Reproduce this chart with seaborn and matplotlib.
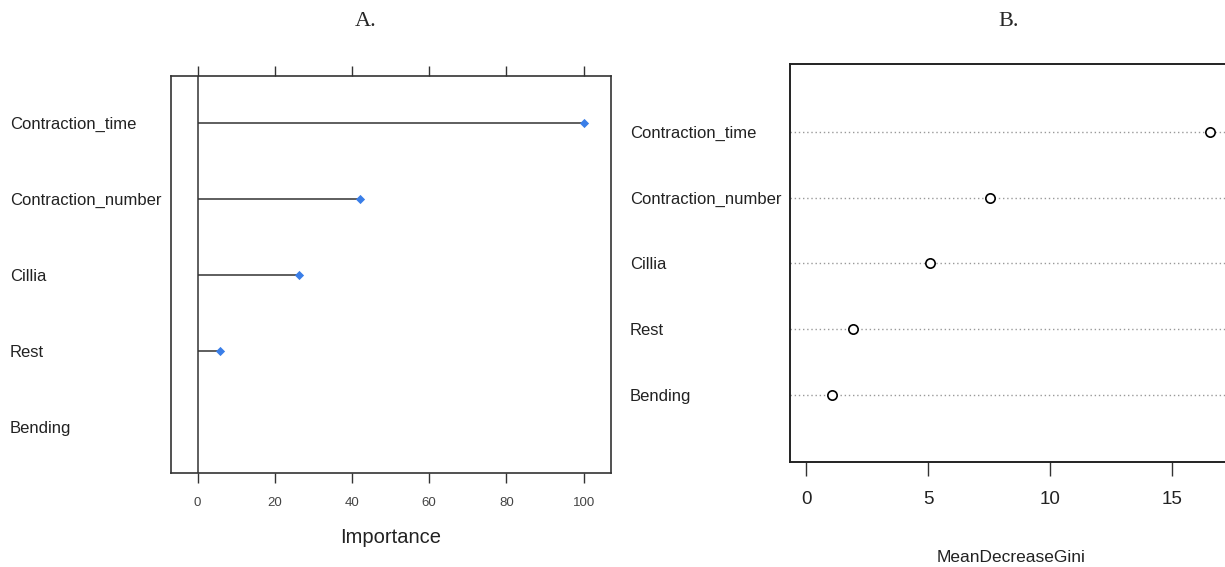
"""Variable importance: caret-style lollipop (A) and randomForest Gini dotchart (B)."""

import matplotlib

matplotlib.use("Agg")
import matplotlib.pyplot as plt
import pandas as pd
import seaborn as sns

features = ["Contraction_time", "Contraction_number", "Cillia", "Rest", "Bending"]
importance = [100.0, 42.0, 26.2, 5.8, 0.0]
gini = [16.54, 7.55, 5.09, 1.93, 1.06]
importance_ticks = [0, 20, 40, 60, 80, 100]
gini_ticks = [0, 5, 10, 15]

W, H = 1225, 567
SANS = ["Liberation Sans", "DejaVu Sans"]
SERIF = ["Liberation Serif", "DejaVu Serif"]

sns.set_theme(style="white")
plt.rcParams["font.family"] = SANS

df = pd.DataFrame({"feature": features, "importance": importance, "gini": gini})
df["pos"] = range(len(df))

fig = plt.figure(figsize=(W / 100, H / 100), dpi=100)


def px_axes(left, right, top, bottom):
    return fig.add_axes([left / W, 1 - bottom / H, (right - left) / W, (bottom - top) / H])


def left_labels(ax, axis_left_px, text_left_px):
    ax.set_yticks(df["pos"])
    ax.set_yticklabels(df["feature"], fontsize=12, color="#222222")
    ax.tick_params(axis="y", length=0, pad=(axis_left_px - text_left_px) * 0.72)
    for lab in ax.get_yticklabels():
        lab.set_horizontalalignment("left")


# ---- panel A -------------------------------------------------------------
ax_a = px_axes(171, 611, 76, 473)
ax_a.hlines(df["pos"], 0, df["importance"], color="#333333", lw=1.1, zorder=2)
ax_a.axvline(0, color="#333333", lw=1.1, zorder=1)
shown = df[df["importance"] > 0]
sns.scatterplot(data=shown, x="importance", y="pos", ax=ax_a, color="#3a7ee8",
                marker="D", s=22, edgecolor="#3a7ee8", linewidth=0, zorder=3)
ax_a.set_xlim(-6.9, 107.1)
ax_a.set_ylim(4.6, -0.62)
ax_a.set_xticks(importance_ticks)
ax_a.set_xticklabels(importance_ticks, fontsize=9.5, color="#444444")
ax_a.tick_params(axis="x", bottom=True, top=True, direction="out", length=7,
                 width=1, color="#333333", pad=10)
ax_a.set_xlabel("Importance", fontsize=14.5, color="#222222", labelpad=14)
ax_a.set_ylabel("")
left_labels(ax_a, 171, 10)
for sp in ax_a.spines.values():
    sp.set_color("#333333")
    sp.set_linewidth(1.2)

# ---- panel B -------------------------------------------------------------
ax_b = px_axes(790, 1232, 64, 462)
for y in df["pos"]:
    ax_b.axhline(y, color="#999999", lw=1, ls=(0, (1, 2)), zorder=1)
sns.scatterplot(data=df, x="gini", y="pos", ax=ax_b, marker="o", s=45,
                facecolor="white", edgecolor="black", linewidth=1.2, zorder=3)
ax_b.set_xlim(-0.66, 17.45)
ax_b.set_ylim(5.02, -1.03)
ax_b.set_xticks(gini_ticks)
ax_b.set_xticklabels(gini_ticks, fontsize=13.5, color="#222222")
ax_b.tick_params(axis="x", bottom=True, direction="out", length=10, width=1,
                 color="#333333", pad=11)
ax_b.set_xlabel("MeanDecreaseGini", fontsize=12.5, color="#222222", labelpad=30)
ax_b.set_ylabel("")
left_labels(ax_b, 790, 630)
for sp in ax_b.spines.values():
    sp.set_color("#222222")
    sp.set_linewidth(1.4)

# ---- panel titles --------------------------------------------------------
fig.text(366 / W, 1 - 22 / H, "A.", ha="center", va="center", fontsize=16, family=SERIF)
fig.text(1009 / W, 1 - 22 / H, "B.", ha="center", va="center", fontsize=16, family=SERIF)

fig.savefig("out.png", dpi=100)
plt.close(fig)
